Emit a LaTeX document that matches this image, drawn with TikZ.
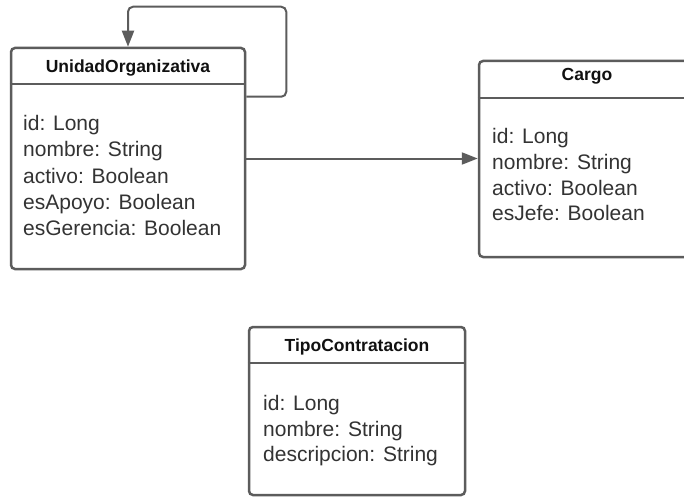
\documentclass[tikz,border=0pt]{standalone}
\usepackage{fontspec}
\setmainfont{Liberation Sans}
\usetikzlibrary{arrows.meta,calc}
\definecolor{linecol}{RGB}{92,92,92}
\definecolor{txtcol}{RGB}{51,51,51}
\definecolor{titcol}{RGB}{17,17,17}
\tikzset{
  classbox/.style={draw=linecol, line width=2.5pt, rounded corners=4pt, fill=white, inner sep=0pt, rectangle},
  divider/.style={draw=linecol, line width=2.5pt},
  titletext/.style={font=\bfseries\fontsize{17.5}{21}\selectfont, text=titcol, inner sep=0pt, anchor=base},
  attr/.style={font=\fontsize{21}{26}\selectfont, text=txtcol, inner sep=0pt, anchor=base west},
  conn/.style={draw=linecol, line width=2pt, -{Triangle[length=16pt,width=12pt]}},
}
\begin{document}
\begin{tikzpicture}[x=1pt,y=-1pt]
\useasboundingbox (0,0) rectangle (684,497);
\fill[white] (0,0) rectangle (684,497);
\clip (0,0) rectangle (684,497);

% UnidadOrganizativa
\node[classbox, minimum width=234pt, minimum height=221pt] (uo) at (128,158.5) {};
\draw[divider] (uo.west |- 0,84) -- (uo.east |- 0,84);
\node[titletext] (uot) at (128,73) {UnidadOrganizativa};
\node[attr] (uo1) at (23,131) {id: Long};
\node[attr] (uo2) at (23,157) {nombre: String};
\node[attr] (uo3) at (23,183) {activo: Boolean};
\node[attr] (uo4) at (23,209) {esApoyo: Boolean};
\node[attr] (uo5) at (23,235) {esGerencia: Boolean};

% Cargo
\node[classbox, minimum width=216pt, minimum height=196pt] (cargo) at (587,159) {};
\draw[divider] (cargo.west |- 0,98) -- (cargo.east |- 0,98);
\node[titletext] (cargot) at (587,81) {Cargo};
\node[attr] (c1) at (492,144) {id: Long};
\node[attr] (c2) at (492,169.5) {nombre: String};
\node[attr] (c3) at (492,195) {activo: Boolean};
\node[attr] (c4) at (492,220.5) {esJefe: Boolean};

% TipoContratacion
\node[classbox, minimum width=216pt, minimum height=168pt] (tipo) at (357,411) {};
\draw[divider] (tipo.west |- 0,363) -- (tipo.east |- 0,363);
\node[titletext] (tipot) at (357,351) {TipoContratacion};
\node[attr] (t1) at (263,410.5) {id: Long};
\node[attr] (t2) at (263,436) {nombre: String};
\node[attr] (t3) at (263,461.5) {descripcion: String};

% connectors
\draw[conn] (uo.east) -- (uo.east -| cargo.west);
\draw[conn, rounded corners=5pt] ([yshift=-50pt]uo.north east) -- ++(40,0) -- ++(0,-90) -| (uo.north);
\end{tikzpicture}
\end{document}
